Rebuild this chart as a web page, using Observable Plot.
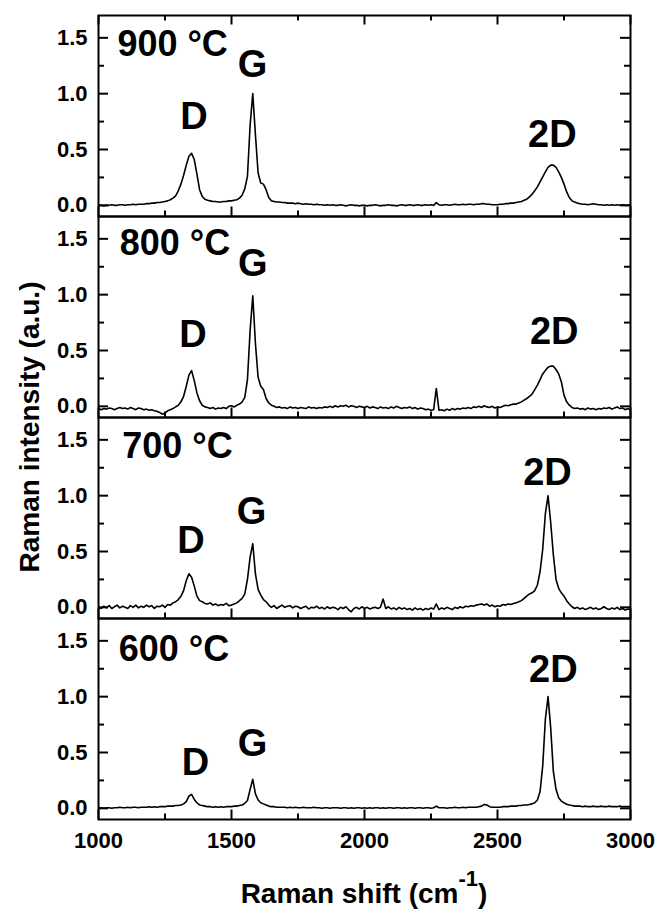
<!DOCTYPE html>
<html><head><meta charset="utf-8">
<script src="https://cdn.jsdelivr.net/npm/d3@7"></script>
<script src="https://cdn.jsdelivr.net/npm/@observablehq/plot@0.6"></script>
<style>
body{margin:0;background:#fff;}
#wrap{position:relative;width:656px;height:912px;font-family:"Liberation Sans",Arial,sans-serif;font-weight:bold;color:#000;background:#fff;}
#chart{position:absolute;left:0;top:0;}
#ytitle{position:absolute;left:30px;top:427px;transform:translate(-50%,-50%) rotate(-90deg);font-size:28px;line-height:28px;white-space:nowrap;}
#xtitle{position:absolute;left:98px;width:532px;top:880px;text-align:center;font-size:28px;line-height:28px;white-space:nowrap;}
#xtitle sup{font-size:22px;line-height:0;vertical-align:baseline;position:relative;top:-17px;}
</style></head>
<body>
<div id="wrap">
  <div id="chart"></div>
  <div id="ytitle">Raman intensity (a.u.)</div>
  <div id="xtitle">Raman shift (cm<sup>-1</sup>)</div>
</div>
<script>
const panels = ["900 °C", "800 °C", "700 °C", "600 °C"];
const shift = d3.range(1000, 3001, 10);

const int900 = [
 0.00,0.00,-0.005,0.00,0.00,0.005,0.00,0.00,0.005,0.005,
 0.00,0.005,0.005,0.01,0.005,0.01,0.01,0.01,0.015,0.015,
 0.02,0.02,0.025,0.025,0.03,0.035,0.04,0.05,0.065,0.085,
 0.13,0.19,0.27,0.36,0.44,0.465,0.41,0.28,0.14,0.08,
 0.055,0.045,0.04,0.035,0.035,0.03,0.03,0.035,0.035,0.04,
 0.04,0.045,0.05,0.065,0.09,0.15,0.26,0.72,1.00,0.63,
 0.29,0.20,0.19,0.14,0.07,0.04,0.035,0.03,0.03,0.025,
 0.025,0.02,0.02,0.02,0.015,0.02,0.015,0.01,0.015,0.01,
 0.01,0.005,0.01,0.005,0.005,0.00,0.005,0.00,0.005,0.00,
 0.00,0.005,0.00,-0.005,0.00,0.005,0.00,0.00,-0.005,0.00,
 0.00,-0.005,0.00,0.00,0.005,0.00,-0.005,0.00,0.00,0.005,
 0.00,0.00,-0.005,0.00,0.005,0.00,0.00,0.005,0.00,0.00,
 0.005,0.00,0.00,0.005,0.00,0.005,0.00,0.025,0.005,0.00,
 0.005,0.005,0.00,0.005,0.01,0.005,0.005,0.01,0.005,0.01,
 0.01,0.005,0.01,0.01,0.015,0.015,0.01,0.01,0.005,0.005,
 0.005,0.01,0.01,0.015,0.015,0.02,0.02,0.025,0.03,0.035,
 0.045,0.055,0.075,0.10,0.13,0.165,0.21,0.255,0.30,0.34,
 0.36,0.36,0.34,0.30,0.25,0.19,0.12,0.07,0.04,0.03,
 0.02,0.015,0.01,0.01,0.005,0.01,0.015,0.01,0.005,0.005,
 0.00,0.005,0.00,0.005,0.00,0.005,0.00,0.005,0.00,0.00,
 0.005];

const int800 = [
 -0.02,-0.03,-0.02,-0.025,-0.015,-0.02,-0.03,-0.02,-0.01,-0.02,
 -0.015,-0.025,-0.01,-0.02,-0.03,-0.015,-0.02,-0.03,-0.025,-0.035,
 -0.03,-0.04,-0.045,-0.055,-0.07,-0.06,-0.04,-0.03,-0.02,-0.005,
 0.01,0.04,0.09,0.18,0.28,0.32,0.23,0.12,0.05,0.01,
 -0.005,-0.01,-0.02,-0.01,-0.025,-0.015,-0.02,-0.01,-0.02,0.00,
 0.005,-0.005,0.01,0.02,0.04,0.08,0.24,0.68,0.99,0.56,
 0.26,0.18,0.15,0.07,0.03,0.01,0.00,-0.01,-0.005,-0.015,
 -0.01,-0.02,-0.005,-0.015,-0.01,-0.02,-0.01,-0.015,-0.02,-0.005,
 -0.015,-0.01,-0.02,-0.01,-0.015,-0.005,-0.01,0.00,-0.01,0.005,
 -0.005,0.005,0.00,0.01,-0.005,0.005,0.00,-0.01,0.00,-0.005,
 -0.01,0.00,-0.015,-0.005,-0.01,-0.02,-0.005,-0.015,-0.01,-0.02,
 -0.005,-0.015,0.00,-0.01,-0.02,-0.01,-0.015,-0.005,-0.02,-0.01,
 -0.025,-0.015,-0.02,-0.03,-0.025,-0.035,-0.03,0.16,-0.035,-0.03,
 -0.04,-0.025,-0.035,-0.02,-0.03,-0.02,-0.025,-0.015,-0.02,-0.01,
 -0.02,-0.005,-0.01,0.00,-0.01,0.005,-0.005,-0.01,0.00,-0.015,
 -0.005,-0.01,0.00,0.01,0.005,0.015,0.02,0.02,0.03,0.04,
 0.055,0.07,0.09,0.11,0.15,0.19,0.24,0.29,0.32,0.35,
 0.36,0.36,0.33,0.29,0.22,0.10,0.04,0.01,-0.01,-0.02,
 -0.015,-0.025,-0.02,-0.03,-0.015,-0.025,-0.02,-0.03,-0.02,-0.025,
 -0.015,-0.02,-0.01,-0.025,-0.015,-0.005,-0.02,-0.015,-0.03,-0.02,
 -0.035];

const int700 = [
 0.00,-0.01,0.01,-0.005,0.015,-0.01,0.005,0.02,-0.005,0.01,
 0.00,-0.01,0.015,0.00,0.02,-0.005,0.01,0.00,0.02,0.005,
 0.015,-0.01,0.01,0.005,0.02,0.00,0.025,0.02,0.04,0.05,
 0.07,0.10,0.15,0.24,0.30,0.27,0.19,0.10,0.06,0.05,
 0.035,0.03,0.04,0.02,0.03,0.015,0.025,0.02,0.035,0.015,
 0.02,0.03,0.04,0.06,0.08,0.12,0.25,0.45,0.57,0.30,
 0.16,0.11,0.07,0.05,0.02,0.00,0.015,-0.01,0.005,0.02,
 0.00,0.01,0.015,-0.005,0.01,0.005,-0.01,0.00,0.01,-0.015,
 0.00,-0.005,0.01,-0.01,0.00,-0.015,0.005,-0.01,0.00,-0.005,
 -0.02,0.00,-0.01,0.005,-0.02,-0.04,-0.01,0.00,-0.015,0.005,
 -0.01,0.00,-0.015,-0.005,0.00,-0.01,0.00,0.075,-0.01,0.005,
 -0.015,-0.005,-0.02,0.00,-0.015,-0.005,-0.02,-0.01,-0.025,-0.005,
 -0.02,-0.01,-0.025,-0.01,-0.02,-0.005,-0.015,0.03,-0.02,-0.005,
 -0.015,0.00,-0.01,-0.02,0.00,-0.01,0.005,-0.005,0.01,0.005,
 0.015,0.01,0.02,0.025,0.03,0.02,0.03,0.01,0.02,0.005,
 0.015,0.01,0.025,0.02,0.03,0.025,0.035,0.04,0.05,0.06,
 0.08,0.10,0.12,0.13,0.15,0.20,0.32,0.52,0.84,1.00,
 0.76,0.47,0.25,0.17,0.13,0.10,0.06,0.03,0.005,-0.01,
 0.00,-0.015,-0.005,-0.02,-0.01,0.00,-0.015,-0.005,-0.02,-0.01,
 0.005,-0.01,-0.02,-0.005,-0.015,0.00,-0.02,-0.01,-0.025,-0.015,
 -0.02];

const int600 = [
 0.005,0.005,0.00,0.005,0.005,0.00,0.005,0.005,0.01,0.005,
 0.005,0.01,0.005,0.01,0.01,0.005,0.01,0.01,0.01,0.015,
 0.01,0.015,0.01,0.015,0.015,0.015,0.02,0.02,0.02,0.025,
 0.025,0.03,0.04,0.06,0.11,0.125,0.08,0.05,0.03,0.025,
 0.02,0.015,0.015,0.01,0.015,0.01,0.015,0.01,0.015,0.015,
 0.015,0.02,0.02,0.025,0.03,0.045,0.07,0.17,0.26,0.13,
 0.075,0.05,0.04,0.03,0.02,0.015,0.015,0.01,0.01,0.01,
 0.01,0.005,0.01,0.005,0.01,0.005,0.005,0.01,0.005,0.005,
 0.005,0.01,0.005,0.005,0.00,0.005,0.005,0.00,0.005,0.005,
 0.005,0.00,0.005,0.005,0.00,0.005,0.00,0.005,0.005,0.00,
 0.005,0.00,0.005,0.00,0.005,0.005,0.00,0.005,0.00,0.005,
 0.005,0.00,0.005,0.005,0.00,0.005,0.00,0.005,0.005,0.00,
 0.005,0.005,0.00,0.005,0.005,0.00,0.005,0.02,0.005,0.005,
 0.005,0.00,0.005,0.005,0.01,0.005,0.005,0.01,0.005,0.01,
 0.01,0.01,0.01,0.015,0.02,0.035,0.03,0.015,0.01,0.01,
 0.01,0.01,0.015,0.015,0.015,0.02,0.02,0.02,0.025,0.025,
 0.03,0.03,0.035,0.04,0.05,0.075,0.15,0.38,0.80,1.00,
 0.72,0.33,0.17,0.095,0.065,0.05,0.036,0.03,0.025,0.02,
 0.02,0.02,0.015,0.02,0.015,0.015,0.02,0.015,0.015,0.02,
 0.015,0.015,0.02,0.015,0.015,0.015,0.02,0.015,0.015,0.015,
 0.015];

// panel annotations
const tempX = [1071, 1080, 1089, 1076];
const tempY = [1.34, 1.355, 1.34, 1.316];
const peakNames = ["D", "G", "2D"];
const peakX = [[1359, 1579, 2706], [1355, 1580, 2713], [1348, 1575, 2688], [1365, 1579, 2710]];
const peakY = [[0.68, 1.15, 0.52], [0.53, 1.17, 0.556], [0.49, 0.75, 1.095], [0.30, 0.47, 1.13]];

// ticks
const xMajor = [1000, 1500, 2000, 2500, 3000];
const xMinor = [1250, 1750, 2250, 2750];
const yMajor = [0, 0.5, 1.0, 1.5];
const yMinor = [0.25, 0.75, 1.25];

const series = [int900, int800, int700, int600];
const spectra = panels.flatMap((p, k) => shift.map((x, i) => ({panel: p, x, y: series[k][i]})));
const temps = panels.map((p, k) => ({panel: p, x: tempX[k], y: tempY[k], label: p}));
const peaks = panels.flatMap((p, k) => peakNames.map((n, j) => ({panel: p, x: peakX[k][j], y: peakY[k][j], label: n})));
const topMajor = xMajor.map(x => ({x, panel: panels[0]}));
const topMinor = xMinor.map(x => ({x, panel: panels[0]}));

const W = 656, H = 860, mL = 98, mR = 26, mT = 14, mB = 40;
const innerW = W - mL - mR;
const panelH = (H - mT - mB) / panels.length;
const LMAJ = 10, LMIN = 6, SW = 2;

const chart = Plot.plot({
  width: W, height: H,
  marginLeft: mL, marginRight: mR, marginTop: mT, marginBottom: mB,
  style: {fontFamily: "'Liberation Sans', Arial, sans-serif", fontWeight: "bold", fontSize: "22px", color: "#000", background: "#fff"},
  x: {domain: [1000, 3000], ticks: xMajor, tickSize: 0, tickPadding: 13, label: null, tickFormat: d3.format("d")},
  y: {domain: [-0.1, 1.7], ticks: yMajor, tickSize: 0, tickPadding: 11, label: null, tickFormat: d3.format(".1f")},
  fy: {domain: panels, padding: 0, axis: null, label: null},
  marks: [
    Plot.line(spectra, {x: "x", y: "y", fy: "panel", stroke: "#000", strokeWidth: 1.6, clip: true}),
    Plot.ruleY(yMajor, {insetRight: innerW - LMAJ, strokeWidth: SW}),
    Plot.ruleY(yMinor, {insetRight: innerW - LMIN, strokeWidth: SW}),
    Plot.ruleY(yMajor, {insetLeft: innerW - LMAJ, strokeWidth: SW}),
    Plot.ruleY(yMinor, {insetLeft: innerW - LMIN, strokeWidth: SW}),
    Plot.ruleX(xMajor, {insetTop: panelH - LMAJ, strokeWidth: SW}),
    Plot.ruleX(xMinor, {insetTop: panelH - LMIN, strokeWidth: SW}),
    Plot.ruleX(topMajor, {x: "x", fy: "panel", insetBottom: panelH - LMAJ, strokeWidth: SW}),
    Plot.ruleX(topMinor, {x: "x", fy: "panel", insetBottom: panelH - LMIN, strokeWidth: SW}),
    Plot.frame({stroke: "#000", strokeWidth: SW}),
    Plot.text(temps, {x: "x", y: "y", fy: "panel", text: "label", textAnchor: "start", lineAnchor: "bottom", fontSize: 36, fontWeight: "bold", fill: "#000"}),
    Plot.text(peaks, {x: "x", y: "y", fy: "panel", text: "label", textAnchor: "middle", lineAnchor: "bottom", fontSize: 38, fontWeight: "bold", fill: "#000"})
  ]
});
document.getElementById("chart").appendChild(chart);
</script>
</body></html>
